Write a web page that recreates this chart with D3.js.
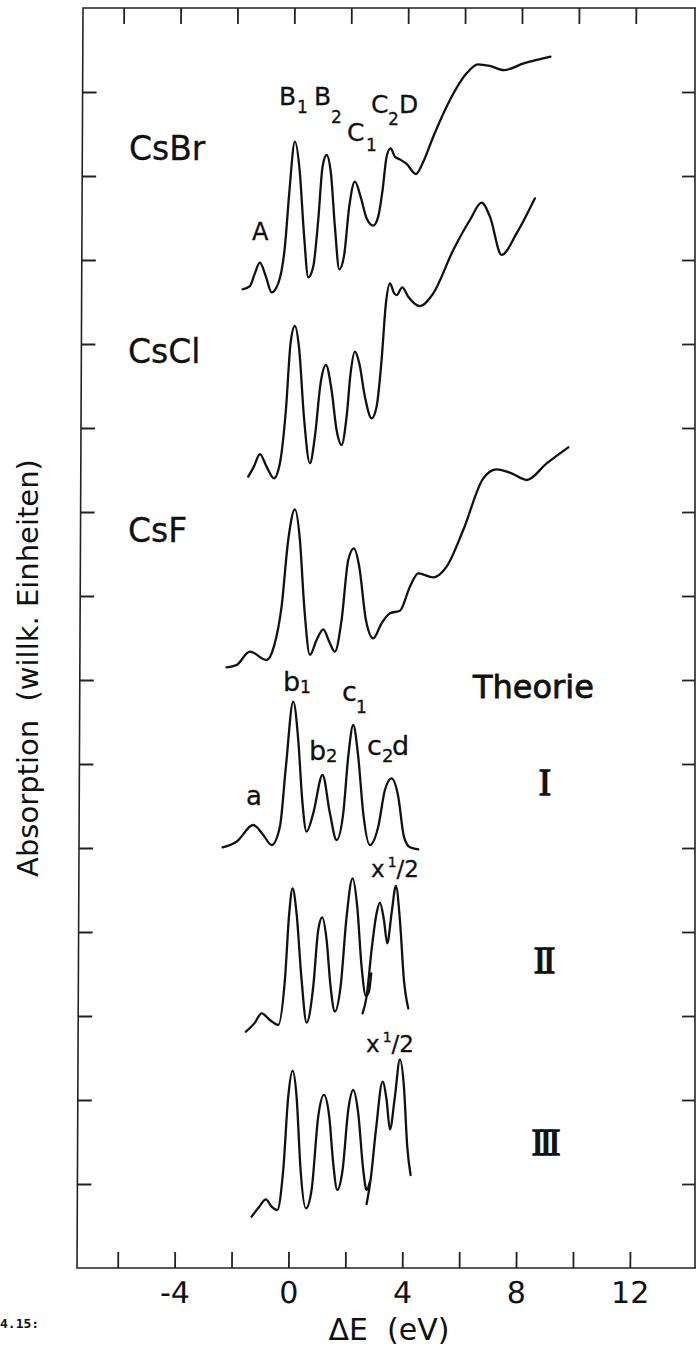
<!DOCTYPE html>
<html>
<head>
<meta charset="utf-8">
<script src="https://cdn.jsdelivr.net/npm/d3@7"></script>
<style>
  body { margin: 0; background: #fff; }
  svg { display: block; }
  text { fill: #111; }
</style>
</head>
<body>
<svg id="chart" width="696" height="1349"></svg>
<script>
// ---------- axis ticks ----------
const xTickValues = [-6, -4, -2, 0, 2, 4, 6, 8, 10, 12];
const xTickLabels = [-4, 0, 4, 8, 12];
const yTickValues = [1, 2, 3, 4, 5, 6, 7, 8, 9, 10, 11, 12, 13, 14];

// ---------- spectra (ΔE in eV, absorption in arbitrary units) ----------
const csBrE = [-1.611,-1.353,-1.178,-1.002,-0.791,-0.592,-0.357,-0.123,0.029,0.228,0.404,0.545,0.697,0.873,1.048,1.201,1.342,1.494,1.634,1.787,1.951,2.138,2.337,2.537,2.748,2.982,3.157,3.310,3.451,3.591,3.743,3.919,4.154,4.482,4.716,5.091,5.677,6.263,6.66,7.08,7.57,8.27,9.21];
const csBrA = [11.651,11.690,11.841,11.968,11.802,11.615,11.722,12.158,12.794,13.409,13.032,12.318,11.794,11.921,12.476,13.111,13.250,13.032,12.397,11.889,12.040,12.635,12.932,12.754,12.496,12.409,12.516,12.833,13.230,13.329,13.230,13.198,13.143,13.024,13.151,13.468,13.905,14.222,14.33,14.31,14.26,14.34,14.42];

const csClE = [-1.412,-1.213,-1.002,-0.767,-0.510,-0.299,-0.088,0.076,0.228,0.381,0.545,0.756,0.931,1.131,1.318,1.517,1.693,1.869,2.045,2.185,2.337,2.490,2.689,2.923,3.099,3.275,3.427,3.568,3.720,3.802,4.001,4.212,4.622,5.091,5.794,6.380,6.790,7.083,7.493,8.020,8.664];
const csClA = [9.421,9.540,9.690,9.540,9.401,9.580,10.214,11.008,11.214,10.929,10.135,9.580,9.897,10.532,10.750,10.452,9.976,9.798,10.135,10.651,10.909,10.770,10.373,10.115,10.254,10.810,11.484,11.722,11.603,11.583,11.675,11.563,11.452,11.603,12.119,12.476,12.682,12.516,12.060,12.317,12.734];

const csFE = [-2.173,-1.822,-1.353,-0.767,-0.510,-0.240,-0.006,0.228,0.404,0.556,0.756,0.990,1.225,1.435,1.634,1.869,2.103,2.302,2.490,2.724,2.982,3.275,3.568,3.919,4.271,4.564,5.091,5.560,6.146,6.849,7.318,7.845,8.373,9.076,9.837];
const csFA = [7.151,7.179,7.337,7.238,7.397,7.873,8.667,9.032,8.667,7.873,7.298,7.476,7.603,7.456,7.337,7.714,8.429,8.567,8.349,7.714,7.496,7.675,7.794,7.825,8.111,8.270,8.222,8.349,8.786,9.401,9.508,9.460,9.381,9.579,9.770];

const theoIE = [-2.314,-1.822,-1.236,-0.884,-0.592,-0.299,-0.088,0.170,0.346,0.486,0.639,0.873,1.201,1.459,1.693,1.927,2.103,2.279,2.454,2.630,2.865,3.157,3.392,3.626,3.861,4.060,4.271,4.564];
const theoIA = [5.008,5.075,5.274,5.155,5.036,5.254,5.968,6.742,6.286,5.571,5.194,5.413,5.869,5.413,5.095,5.413,6.087,6.464,6.087,5.413,5.036,5.254,5.690,5.829,5.611,5.135,5.008,4.984];

const theoIIE = [-1.494,-1.178,-0.943,-0.650,-0.357,-0.123,0.029,0.147,0.287,0.463,0.639,0.873,1.048,1.189,1.342,1.482,1.634,1.834,2.045,2.255,2.419,2.572,2.724,2.829,2.911];
const theoIIA = [2.813,2.921,3.032,2.952,2.893,3.429,4.222,4.520,4.222,3.429,2.921,3.349,4.024,4.175,3.905,3.349,3.052,3.349,4.183,4.639,4.302,3.587,3.238,3.290,3.508];
const theoIIHalfE = [2.607,2.748,2.923,3.099,3.216,3.357,3.474,3.626,3.779,3.919,4.060,4.212];
const theoIIHalfA = [3.032,3.230,3.786,4.222,4.349,4.143,3.865,4.222,4.548,4.143,3.429,3.091];

const theoIIIE = [-1.295,-1.025,-0.791,-0.592,-0.393,-0.182,-0.006,0.147,0.287,0.428,0.615,0.814,1.048,1.248,1.435,1.575,1.716,1.904,2.103,2.279,2.454,2.630,2.748,2.865];
const theoIIIA = [0.611,0.730,0.817,0.730,0.690,1.167,2.040,2.349,2.040,1.167,0.710,0.929,1.802,2.060,1.802,1.246,0.929,1.167,1.881,2.119,1.841,1.167,0.929,1.028];
const theoIIIHalfE = [2.748,2.888,3.076,3.310,3.451,3.568,3.743,3.919,4.060,4.177,4.294];
const theoIIIHalfA = [0.762,1.048,1.643,2.218,2.000,1.651,2.040,2.484,2.159,1.444,1.107];

const seriesList = [
  [csBrE, csBrA], [csClE, csClA], [csFE, csFA],
  [theoIE, theoIA], [theoIIE, theoIIA], [theoIIHalfE, theoIIHalfA],
  [theoIIIE, theoIIIA], [theoIIIHalfE, theoIIIHalfA]
];

// ---------- layout ----------
const frameLeft = 77, frameRight = 695, frameTop = 8, frameBottom = 1268;
const sans = "'DejaVu Sans', 'Noto Sans', sans-serif";
const serif = "'Liberation Serif', 'DejaVu Serif', serif";

const svg = d3.select("#chart");
const x = d3.scaleLinear().domain([-7.43, 14.29]).range([frameLeft, frameRight]);
const y = d3.scaleLinear().domain([0, 15]).range([frameBottom, frameTop]);

// frame + ticks (slightly skewed like the scanned original)
const frame = svg.append("g")
  .attr("transform", `translate(0,${frameBottom}) skewX(-0.273) translate(0,${-frameBottom})`);

frame.append("path")
  .attr("d", `M${frameRight + 8},${frameTop}H${frameLeft}V${frameBottom}H${frameRight + 2}`)
  .attr("fill", "none").attr("stroke", "#222").attr("stroke-width", 1.6);

svg.append("line")
  .attr("x1", frameRight).attr("x2", frameRight)
  .attr("y1", frameTop).attr("y2", frameBottom)
  .attr("stroke", "#222").attr("stroke-width", 1.6);

function styleAxis(g) {
  g.select(".domain").remove();
  g.selectAll(".tick line").attr("stroke", "#222").attr("stroke-width", 1.8);
}

frame.append("g")
  .attr("transform", `translate(0,${frameBottom})`)
  .call(d3.axisBottom(x).tickValues(xTickValues).tickSizeInner(-16).tickSizeOuter(0)
        .tickPadding(14).tickFormat(d => xTickLabels.includes(d) ? String(d) : ""))
  .call(styleAxis)
  .call(g => g.selectAll(".tick text")
      .style("font-family", sans)
      .attr("font-size", 30).attr("fill", "#111"));

frame.append("g")
  .attr("transform", `translate(0,${frameTop})`)
  .call(d3.axisTop(x).tickValues(xTickValues).tickSizeInner(-16).tickSizeOuter(0).tickFormat(""))
  .call(styleAxis);

frame.append("g")
  .attr("transform", `translate(${frameLeft},0)`)
  .call(d3.axisLeft(y).tickValues(yTickValues).tickSizeInner(-14).tickSizeOuter(0).tickFormat(""))
  .call(styleAxis);

svg.append("g")
  .attr("transform", `translate(${frameRight},0)`)
  .call(d3.axisRight(y).tickValues(yTickValues).tickSizeInner(-13).tickSizeOuter(0).tickFormat(""))
  .call(styleAxis);

// ---------- curves ----------
const line = d3.line()
  .x(d => x(d[0]))
  .y(d => y(d[1]))
  .curve(d3.curveMonotoneX);

seriesList.forEach(([es, as]) => {
  const pts = es.map((e, i) => [e, as[i]]);
  svg.append("path")
    .attr("d", line(pts))
    .attr("fill", "none")
    .attr("stroke", "#111")
    .attr("stroke-width", 2.3)
    .attr("stroke-linejoin", "round")
    .attr("stroke-linecap", "round");
});

// ---------- text ----------
function txt(xp, yp, s, size, opts = {}) {
  const t = svg.append("text")
    .attr("x", xp).attr("y", yp)
    .attr("font-size", size)
    .style("font-family", opts.family || sans)
    .text(s);
  if (opts.anchor) t.attr("text-anchor", opts.anchor);
  if (opts.stroke) t.attr("stroke", "#111").attr("stroke-width", opts.stroke);
  if (opts.spacing) t.attr("letter-spacing", opts.spacing);
  return t;
}

// substance names
txt(129, 160, "CsBr", 33, { stroke: 0.3 });
txt(128, 363, "CsCl", 33, { stroke: 0.3 });
txt(128, 542, "CsF", 33, { stroke: 0.3 });
txt(473, 698, "Theorie", 32, { stroke: 0.8 });

// roman numerals
txt(545, 795, "I", 37, { anchor: "middle", family: serif, stroke: 1.3 });
txt(543, 973, "II", 37, { anchor: "middle", family: serif, stroke: 1.3, spacing: -3 });
txt(544, 1155, "III", 37, { anchor: "middle", family: serif, stroke: 1.3, spacing: -4 });

// peak labels with subscripts
function subLabel(xp, yp, main, sub, subDx, subDy, size, subSize) {
  txt(xp, yp, main, size, { stroke: 0.3 });
  if (sub) txt(xp + subDx, yp + subDy, sub, subSize, { stroke: 0.3 });
}
// experiment
txt(252, 240, "A", 24, { stroke: 0.3 });
subLabel(279, 105, "B", "1", 18, 8, 25, 17);
subLabel(314, 105, "B", "2", 17, 18, 25, 17);
subLabel(347, 141, "C", "1", 19, 10, 25, 17);
subLabel(371, 113, "C", "2", 17, 12, 25, 17);
txt(399, 113, "D", 25, { stroke: 0.3 });
// theory
txt(246, 805, "a", 26, { stroke: 0.3 });
subLabel(283, 691, "b", "1", 17, 2, 27, 17);
subLabel(342, 701, "c", "1", 14, 12, 27, 17);
subLabel(309, 760, "b", "2", 17, 2, 27, 18);
subLabel(367, 755, "c", "2", 15, 7, 27, 18);
txt(392, 755, "d", 27, { stroke: 0.3 });

// x 1/2 labels
function halfLabel(xp, yp) {
  const t = svg.append("text").attr("x", xp).attr("y", yp).attr("font-size", 23)
    .style("font-family", sans).attr("stroke", "#111").attr("stroke-width", 0.3);
  t.append("tspan").text("x");
  t.append("tspan").attr("font-size", 14).attr("dx", 3).attr("dy", -10).text("1");
  t.append("tspan").attr("font-size", 23).attr("dy", 10).text("/2");
}
halfLabel(371, 877);
halfLabel(366, 1052);

// axis titles
svg.append("text")
  .attr("transform", "translate(38,668) rotate(-90)")
  .attr("text-anchor", "middle")
  .attr("font-size", 29)
  .style("font-family", sans)
  .style("white-space", "pre")
  .text("Absorption  (willk. Einheiten)");

svg.append("text")
  .attr("x", 389).attr("y", 1340)
  .attr("text-anchor", "middle")
  .attr("font-size", 30)
  .style("font-family", sans)
  .style("white-space", "pre")
  .text("ΔE  (eV)");

// cropped caption fragment at the bottom left
svg.append("text")
  .attr("x", 0).attr("y", 1328)
  .attr("font-size", 13)
  .style("font-family", "'DejaVu Sans Mono', monospace")
  .attr("font-weight", "bold")
  .text("4.15:");
</script>
</body>
</html>
